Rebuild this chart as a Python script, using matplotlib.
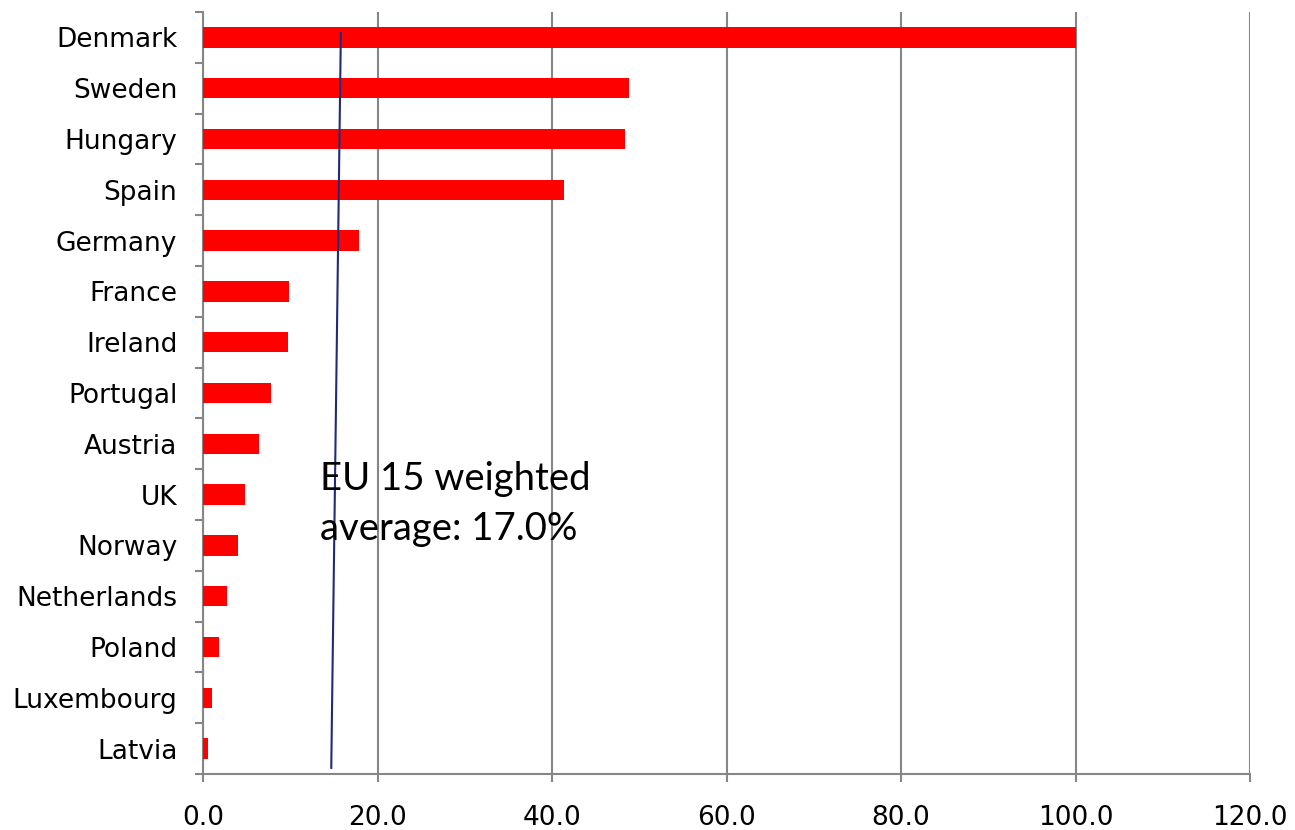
import matplotlib
matplotlib.use("Agg")
import matplotlib.pyplot as plt
import numpy as np

countries = ["Denmark", "Sweden", "Hungary", "Spain", "Germany", "France", "Ireland",
             "Portugal", "Austria", "UK", "Norway", "Netherlands", "Poland",
             "Luxembourg", "Latvia"]
values = [100.0, 48.8, 48.4, 41.4, 17.9, 9.9, 9.7, 7.8, 6.4, 4.8, 4.0, 2.8, 1.8, 1.0, 0.6]
x_ticks = [0, 20, 40, 60, 80, 100, 120]
x_tick_labels = ["0.0", "20.0", "40.0", "60.0", "80.0", "100.0", "120.0"]

avg_line_x = [15.8, 14.7]
avg_line_y = [-0.09, 14.38]
avg_text = ["EU 15 weighted", "average: 17.0%"]

fig = plt.figure(figsize=(12.95, 8.3), dpi=100)
ax = fig.add_axes([203/1295, 1 - 774/830, (1250 - 203)/1295, (774 - 12)/830])

pos = np.arange(len(countries))
ax.barh(pos, values, height=0.4, color="#ff0000", zorder=3)

ax.set_xlim(0, 120)
ax.set_ylim(len(countries) - 0.5, -0.5)

grid_c = "#868686"
ax.set_xticks(x_ticks)
ax.set_xticklabels(x_tick_labels, fontsize=19, family="DejaVu Sans")
ax.xaxis.grid(True, color=grid_c, linewidth=1.5, zorder=1)
ax.set_axisbelow(True)

ax.set_yticks(pos)
ax.set_yticklabels(countries, fontsize=19, family="DejaVu Sans")
ax.set_yticks(np.arange(-0.5, len(countries), 1.0), minor=True)
ax.tick_params(axis="y", which="major", length=0, pad=18.5)
ax.tick_params(axis="y", which="minor", length=6, width=1.5, color=grid_c)
ax.tick_params(axis="x", which="major", length=6, width=1.5, color=grid_c, pad=16)

for s in ["top", "right"]:
    ax.spines[s].set_visible(False)
for s in ["left", "bottom"]:
    ax.spines[s].set_color(grid_c)
    ax.spines[s].set_linewidth(1.5)

ax.plot(avg_line_x, avg_line_y, color="#1f2a7a", linewidth=1.5, zorder=4)

ax.text(13.4, 8.91, avg_text[0], fontsize=27.5, family="Lato", va="baseline", ha="left", zorder=5)
ax.text(13.4, 9.9, avg_text[1], fontsize=27.5, family="Lato", va="baseline", ha="left", zorder=5)

fig.savefig("out.png", dpi=100)
